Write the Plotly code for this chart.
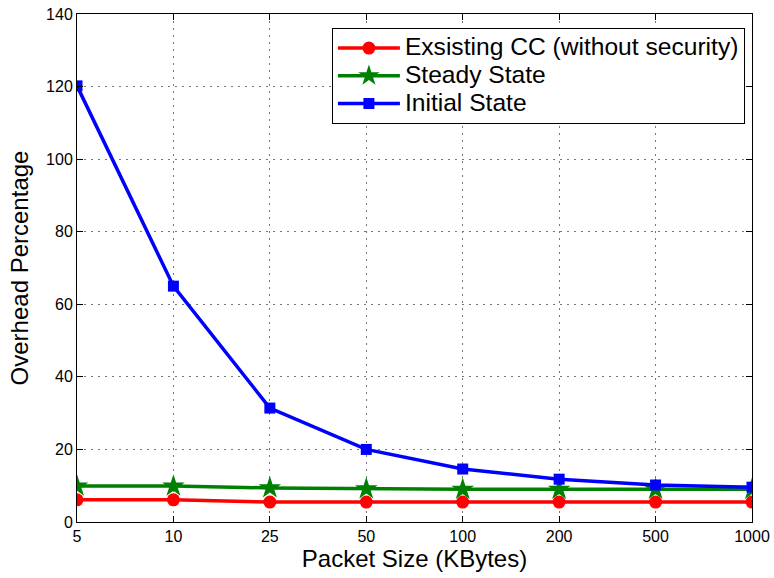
import plotly.graph_objects as go

packet_sizes = ["5", "10", "25", "50", "100", "200", "500", "1000"]
existing_cc = [6.1, 6.1, 5.5, 5.5, 5.5, 5.5, 5.5, 5.5]
steady_state = [9.9, 9.9, 9.4, 9.1, 9.0, 9.0, 9.0, 9.0]
initial_state = [120.2, 65.0, 31.4, 20.0, 14.6, 11.8, 10.2, 9.6]
series_names = ["Exsisting CC (without security)", "Steady State", "Initial State"]

FONT = "Liberation Sans, Arial, Helvetica"


def legend_label(s):
    return '<span style="font-size:24.6px">' + s + "</span>"


fig = go.Figure()
fig.add_trace(go.Scatter(x=packet_sizes, y=existing_cc, mode="lines+markers",
                         name=legend_label(series_names[0]),
                         line=dict(color="#ff0000", width=3.5),
                         marker=dict(symbol="circle", size=13, color="#ff0000")))
fig.add_trace(go.Scatter(x=packet_sizes, y=steady_state, mode="lines+markers",
                         name=legend_label(series_names[1]),
                         line=dict(color="#008000", width=3.5),
                         marker=dict(symbol="star", size=17, color="#008000")))
fig.add_trace(go.Scatter(x=packet_sizes, y=initial_state, mode="lines+markers",
                         name=legend_label(series_names[2]),
                         line=dict(color="#0000ff", width=3.5),
                         marker=dict(symbol="square", size=11, color="#0000ff")))

axis_common = dict(showline=True, linecolor="black", linewidth=1, mirror="ticks",
                   ticks="inside", ticklen=6, tickcolor="black",
                   showgrid=True, gridcolor="#777777", griddash="2px,5px", gridwidth=1,
                   zeroline=False, automargin=False,
                   tickfont=dict(family=FONT, size=16, color="black"))

fig.update_xaxes(**axis_common, type="category", range=[0, 7],
                 title=dict(text="Packet Size (KBytes)", standoff=3,
                            font=dict(family=FONT, size=24, color="black")))
fig.update_yaxes(**axis_common, range=[0, 140], dtick=20,
                 title=dict(text="Overhead Percentage", standoff=10,
                            font=dict(family=FONT, size=24, color="black")))

fig.update_layout(
    width=774, height=578,
    margin=dict(l=77, r=22, t=14, b=56),
    plot_bgcolor="white", paper_bgcolor="white",
    showlegend=True,
    legend=dict(x=0.9895, y=0.972, xanchor="right", yanchor="top",
                bgcolor="white", bordercolor="black", borderwidth=1,
                font=dict(family=FONT, size=19, color="black"),
                itemwidth=62, tracegroupgap=0),
)

fig.write_html("out.html")
